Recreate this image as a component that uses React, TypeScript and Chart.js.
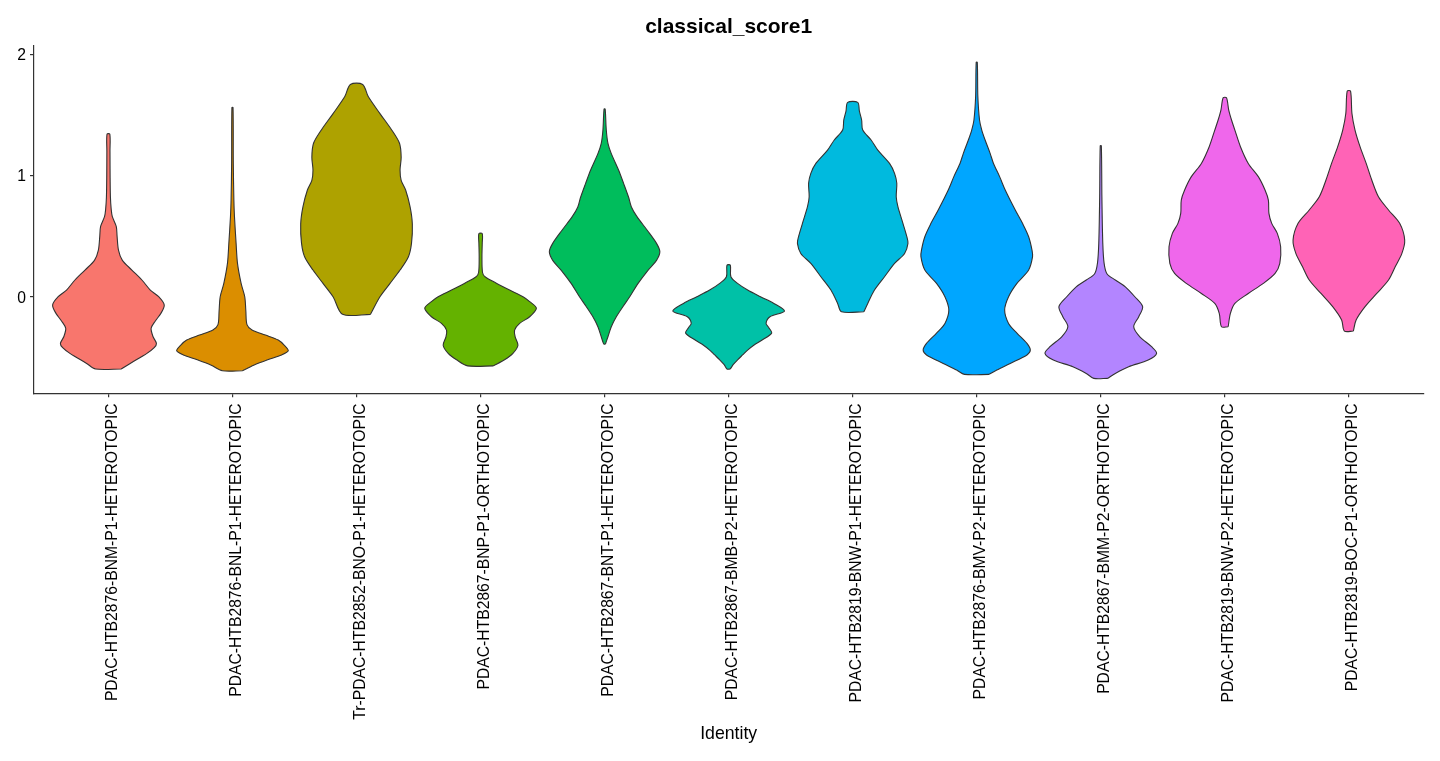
import React, { useEffect, useRef } from "react";
import { Chart, registerables } from "chart.js";

Chart.register(...registerables);

const categories = [
  "PDAC-HTB2876-BNM-P1-HETEROTOPIC",
  "PDAC-HTB2876-BNL-P1-HETEROTOPIC",
  "Tr-PDAC-HTB2852-BNO-P1-HETEROTOPIC",
  "PDAC-HTB2867-BNP-P1-ORTHOTOPIC",
  "PDAC-HTB2867-BNT-P1-HETEROTOPIC",
  "PDAC-HTB2867-BMB-P2-HETEROTOPIC",
  "PDAC-HTB2819-BNW-P1-HETEROTOPIC",
  "PDAC-HTB2876-BMV-P2-HETEROTOPIC",
  "PDAC-HTB2867-BMM-P2-ORTHOTOPIC",
  "PDAC-HTB2819-BNW-P2-HETEROTOPIC",
  "PDAC-HTB2819-BOC-P1-ORTHOTOPIC",
];

const fillColors = [
  "#F8766D", "#DB8E00", "#AEA200", "#64B200", "#00BD5C", "#00C1A7",
  "#00BADE", "#00A6FF", "#B385FF", "#EF67EB", "#FF63B6",
];

// density profiles: [score, relative half-width (1 = widest)]
const profBNM = [
  [-0.596, 0.23], [-0.55, 0.39], [-0.467, 0.69], [-0.42, 0.82], [-0.385, 0.86],
  [-0.33, 0.8], [-0.26, 0.765], [-0.2, 0.84], [-0.137, 0.94], [-0.068, 1.0],
  [0.0, 0.9], [0.055, 0.75], [0.138, 0.6], [0.22, 0.42], [0.3, 0.25],
  [0.385, 0.18], [0.5, 0.155], [0.58, 0.14], [0.66, 0.07], [0.72, 0.05],
  [0.82, 0.036], [1.0, 0.03], [1.2, 0.028], [1.34, 0.025],
];
const profBNL = [
  [-0.61, 0.18], [-0.565, 0.38], [-0.52, 0.63], [-0.48, 0.88], [-0.445, 1.0],
  [-0.4, 0.93], [-0.357, 0.82], [-0.316, 0.59], [-0.275, 0.35], [-0.23, 0.26],
  [-0.12, 0.24], [0.0, 0.22], [0.11, 0.155], [0.275, 0.09], [0.44, 0.065],
  [0.66, 0.036], [0.8, 0.025], [1.1, 0.015], [1.56, 0.01],
];
const profBNO = [
  [-0.145, 0.25], [0.0, 0.42], [0.11, 0.6], [0.22, 0.78], [0.33, 0.93],
  [0.44, 0.985], [0.6, 1.0], [0.74, 0.96], [0.88, 0.88], [0.96, 0.8],
  [1.045, 0.78], [1.15, 0.8], [1.265, 0.77], [1.375, 0.63], [1.51, 0.42],
  [1.65, 0.21], [1.75, 0.11],
];
const profBNP = [
  [-0.57, 0.23], [-0.52, 0.43], [-0.467, 0.58], [-0.4, 0.67], [-0.33, 0.62],
  [-0.275, 0.61], [-0.22, 0.7], [-0.165, 0.88], [-0.095, 1.0], [-0.04, 0.88],
  [0.0, 0.76], [0.055, 0.52], [0.11, 0.29], [0.165, 0.08], [0.2, 0.035],
  [0.33, 0.025], [0.44, 0.03], [0.52, 0.03],
];
const profBNT = [
  [-0.39, 0.015], [-0.33, 0.06], [-0.247, 0.12], [-0.165, 0.21], [-0.08, 0.33],
  [0.0, 0.45], [0.11, 0.6], [0.22, 0.78], [0.3, 0.93], [0.37, 0.99],
  [0.44, 0.93], [0.55, 0.76], [0.66, 0.58], [0.74, 0.48], [0.82, 0.43],
  [0.935, 0.34], [1.045, 0.25], [1.18, 0.12], [1.265, 0.06], [1.375, 0.03],
  [1.547, 0.01],
];
const profBMB = [
  [-0.596, 0.03], [-0.56, 0.08], [-0.52, 0.16], [-0.48, 0.25], [-0.44, 0.34],
  [-0.4, 0.45], [-0.357, 0.6], [-0.3, 0.77], [-0.255, 0.72], [-0.22, 0.67],
  [-0.165, 0.74], [-0.118, 1.0], [-0.055, 0.81], [0.0, 0.57], [0.055, 0.34],
  [0.11, 0.16], [0.165, 0.04], [0.26, 0.03],
];
const profBNW1 = [
  [-0.124, 0.2], [-0.055, 0.27], [0.055, 0.39], [0.165, 0.57], [0.275, 0.75],
  [0.357, 0.93], [0.44, 0.99], [0.495, 0.97], [0.605, 0.9], [0.742, 0.81],
  [0.824, 0.78], [0.935, 0.79], [1.017, 0.75], [1.099, 0.66], [1.209, 0.45],
  [1.292, 0.33], [1.374, 0.18], [1.457, 0.16], [1.53, 0.12], [1.602, 0.09],
];
const profBMV = [
  [-0.64, 0.22], [-0.604, 0.36], [-0.55, 0.6], [-0.48, 0.9], [-0.44, 0.96],
  [-0.385, 0.9], [-0.3, 0.72], [-0.22, 0.57], [-0.11, 0.5], [0.0, 0.57],
  [0.11, 0.72], [0.22, 0.93], [0.33, 1.0], [0.385, 0.99], [0.495, 0.93],
  [0.605, 0.82], [0.715, 0.69], [0.88, 0.51], [0.99, 0.41], [1.099, 0.3],
  [1.182, 0.24], [1.292, 0.15], [1.374, 0.09], [1.457, 0.05], [1.65, 0.02],
  [1.932, 0.01],
];
const profBMM = [
  [-0.673, 0.125], [-0.632, 0.26], [-0.577, 0.5], [-0.522, 0.85], [-0.467, 1.0],
  [-0.412, 0.91], [-0.33, 0.7], [-0.247, 0.59], [-0.165, 0.68], [-0.082, 0.75],
  [0.0, 0.61], [0.082, 0.44], [0.138, 0.26], [0.19, 0.11], [0.275, 0.06],
  [0.44, 0.036], [0.824, 0.02], [1.245, 0.01],
];
const profBNW2 = [
  [-0.247, 0.06], [-0.137, 0.1], [-0.055, 0.18], [0.027, 0.42], [0.11, 0.69],
  [0.192, 0.9], [0.275, 0.985], [0.412, 1.0], [0.522, 0.94], [0.605, 0.84],
  [0.687, 0.79], [0.797, 0.78], [0.88, 0.72], [0.99, 0.6], [1.099, 0.42],
  [1.237, 0.28], [1.374, 0.18], [1.457, 0.12], [1.539, 0.07], [1.64, 0.03],
];
const profBOC = [
  [-0.283, 0.08], [-0.192, 0.13], [-0.082, 0.29], [0.027, 0.5], [0.138, 0.71],
  [0.247, 0.83], [0.357, 0.95], [0.467, 1.0], [0.605, 0.91], [0.715, 0.71],
  [0.824, 0.53], [0.962, 0.41], [1.099, 0.31], [1.237, 0.2], [1.374, 0.11],
  [1.511, 0.055], [1.695, 0.03],
];

const profiles = [
  profBNM, profBNL, profBNO, profBNP, profBNT, profBMB,
  profBNW1, profBMV, profBMM, profBNW2, profBOC,
];

const yTicks = [0, 1, 2];
const yMin = -0.796;
const yMax = 2.067;
const violinHalfWidth = 0.45;

const FONT = "'Liberation Sans', Arial, Helvetica, sans-serif";
const AXIS_COLOR = "#333333";

export default function App() {
  const ref = useRef<HTMLCanvasElement>(null);

  useEffect(() => {
    if (!ref.current) return;
    const datasets = profiles.map((p, i) => {
      const right = p.map(([y, w]) => ({ x: i + violinHalfWidth * w, y }));
      const left = [...p].reverse().map(([y, w]) => ({ x: i - violinHalfWidth * w, y }));
      return {
        label: categories[i],
        data: [...right, ...left, right[0]],
        showLine: true,
        fill: "shape",
        backgroundColor: fillColors[i],
        borderColor: AXIS_COLOR,
        borderWidth: 1.1,
        pointRadius: 0,
        pointHoverRadius: 0,
        tension: 0.3,
      };
    });

    const chart = new Chart(ref.current, {
      type: "scatter",
      data: { datasets: datasets as any },
      options: {
        animation: false,
        responsive: false,
        events: [],
        layout: { padding: { left: 0, right: 16.7, top: 0, bottom: 0 } },
        plugins: {
          legend: { display: false },
          tooltip: { enabled: false },
          title: {
            display: true,
            text: "classical_score1",
            fullSize: false,
            color: "#000",
            font: { family: FONT, size: 21, weight: "bold" },
            padding: { top: 14.6, bottom: 6.2 },
          },
        },
        scales: {
          x: {
            type: "linear",
            min: -0.6,
            max: 10.6,
            afterBuildTicks: (s: any) => {
              s.ticks = categories.map((_, i) => ({ value: i }));
            },
            afterFit: (s: any) => {
              s.height = 367.7;
            },
            ticks: {
              autoSkip: false,
              minRotation: 90,
              maxRotation: 90,
              padding: 6,
              labelOffset: 4,
              color: "#000",
              font: { family: FONT, size: 15.7 },
              callback: (v: any) => categories[Math.round(Number(v))] ?? "",
            },
            grid: {
              display: true,
              drawOnChartArea: false,
              drawTicks: true,
              tickLength: 4,
              color: AXIS_COLOR,
              lineWidth: 1.2,
            },
            border: { display: true, color: AXIS_COLOR, width: 1.2 },
            title: {
              display: true,
              text: "Identity",
              color: "#000",
              font: { family: FONT, size: 17.7 },
              padding: { top: 0, bottom: 16.4 },
            },
          },
          y: {
            type: "linear",
            min: yMin,
            max: yMax,
            afterBuildTicks: (s: any) => {
              s.ticks = yTicks.map((v) => ({ value: v }));
            },
            afterFit: (s: any) => {
              s.width = 34;
            },
            ticks: {
              padding: 4,
              labelOffset: 1.5,
              color: "#000",
              font: { family: FONT, size: 15.7 },
              callback: (v: any) => String(v),
            },
            grid: {
              display: true,
              drawOnChartArea: false,
              drawTicks: true,
              tickLength: 4,
              color: AXIS_COLOR,
              lineWidth: 1.2,
            },
            border: { display: true, color: AXIS_COLOR, width: 1.2 },
          },
        },
      } as any,
    });
    return () => chart.destroy();
  }, []);

  return (
    <div style={{ position: "fixed", left: 0, top: 0, width: 1440, height: 761, background: "#fff" }}>
      <canvas ref={ref} width={1440} height={761} style={{ display: "block" }} />
    </div>
  );
}
